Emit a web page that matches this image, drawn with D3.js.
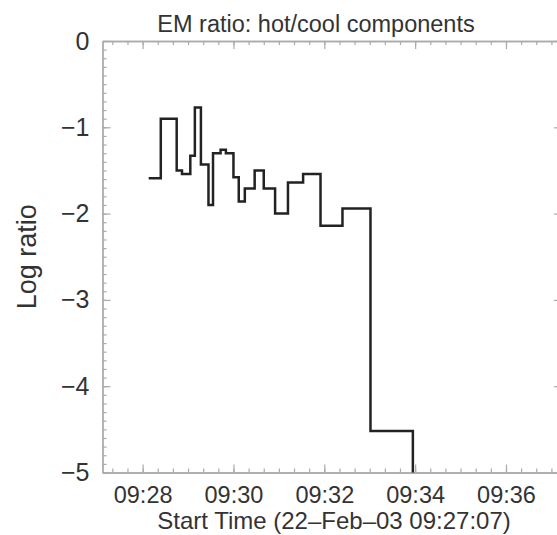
<!DOCTYPE html>
<html>
<head>
<meta charset="utf-8">
<script src="https://cdn.jsdelivr.net/npm/d3@7"></script>
<style>
  body { margin: 0; background: #fff; }
  text { font-family: "Liberation Sans", Arial, Helvetica, sans-serif; fill: #333; }
</style>
</head>
<body>
<script>
// bin edges (start of each interval, last entry closes the final bin)
let binEdges = ["09:28:08", "09:28:24", "09:28:45", "09:28:52", "09:29:03", "09:29:09",
  "09:29:17", "09:29:27", "09:29:33", "09:29:43", "09:29:50", "09:30:00", "09:30:07",
  "09:30:15", "09:30:28", "09:30:40", "09:30:55", "09:31:12", "09:31:32", "09:31:55",
  "09:32:24", "09:33:01", "09:33:57", "09:35:00"];
// log10 of hot/cool EM ratio per bin
let logRatio = [-1.59, -0.90, -1.50, -1.54, -1.33, -0.77, -1.43, -1.90, -1.30, -1.26,
  -1.30, -1.58, -1.86, -1.71, -1.50, -1.71, -2.00, -1.64, -1.54, -2.14, -1.94, -4.52, -6.0];
let yTicks = [0, -1, -2, -3, -4, -5];
let xStart = "09:27:07";
let xEnd = "09:37:14";

let width = 557;
let height = 535;
let margin = {left: 102.5, top: 41, right: 562, bottom: 472.5};

let parse = d3.utcParse("%H:%M:%S");

let x = d3.scaleUtc()
  .domain([parse(xStart), parse(xEnd)])
  .range([margin.left, margin.right]);
let y = d3.scaleLinear()
  .domain([-5, 0])
  .range([margin.bottom, margin.top]);

let svg = d3.select("body")
  .append("svg")
  .attr("width", width)
  .attr("height", height);

svg.append("defs").append("clipPath")
  .attr("id", "plot")
  .append("rect")
  .attr("x", margin.left)
  .attr("y", margin.top)
  .attr("width", margin.right - margin.left)
  .attr("height", margin.bottom - margin.top);

// axes: ticks point inward on all four sides
function styleAxis(g) {
  g.selectAll("path.domain").attr("stroke", "#aaa").attr("stroke-width", 1.3);
  g.selectAll(".tick line").attr("stroke", "#aaa").attr("stroke-width", 1.2);
}

let minorX = d3.utcSecond.every(20);
let majorX = d3.utcMinute.every(2);

svg.append("g")
  .attr("transform", `translate(0,${margin.bottom})`)
  .call(d3.axisBottom(x).ticks(minorX).tickSize(-4).tickSizeOuter(0).tickFormat(""))
  .call(styleAxis);
svg.append("g")
  .attr("transform", `translate(0,${margin.bottom})`)
  .call(d3.axisBottom(x).ticks(majorX).tickSize(-8).tickSizeOuter(0).tickPadding(14)
    .tickFormat(d3.utcFormat("%H:%M")))
  .call(styleAxis)
  .call(g => g.selectAll("text").style("font-size", "23.5px").attr("fill", "#333"));

svg.append("g")
  .attr("transform", `translate(0,${margin.top})`)
  .call(d3.axisTop(x).ticks(minorX).tickSize(-4).tickSizeOuter(0).tickFormat(""))
  .call(styleAxis);
svg.append("g")
  .attr("transform", `translate(0,${margin.top})`)
  .call(d3.axisTop(x).ticks(majorX).tickSize(-8).tickSizeOuter(0).tickFormat(""))
  .call(styleAxis);

svg.append("g")
  .attr("transform", `translate(${margin.left},0)`)
  .call(d3.axisLeft(y).ticks(50).tickSize(-4).tickSizeOuter(0).tickFormat(""))
  .call(styleAxis);
svg.append("g")
  .attr("transform", `translate(${margin.left},0)`)
  .call(d3.axisLeft(y).tickValues(yTicks).tickSize(-8).tickSizeOuter(0).tickPadding(13)
    .tickFormat(d => d3.format("d")(d).replace("-", "\u2212")))
  .call(styleAxis)
  .call(g => g.selectAll("text").style("font-size", "25px").attr("fill", "#333"));

svg.append("g")
  .attr("transform", `translate(${margin.right},0)`)
  .call(d3.axisRight(y).ticks(50).tickSize(-4).tickSizeOuter(0).tickFormat(""))
  .call(styleAxis);
svg.append("g")
  .attr("transform", `translate(${margin.right},0)`)
  .call(d3.axisRight(y).tickValues(yTicks).tickSize(-8).tickSizeOuter(0).tickFormat(""))
  .call(styleAxis);

// step line
let points = logRatio.map((v, i) => [parse(binEdges[i]), v]);
points.push([parse(binEdges[binEdges.length - 1]), logRatio[logRatio.length - 1]]);

let line = d3.line()
  .x(d => x(d[0]))
  .y(d => y(d[1]))
  .curve(d3.curveStepAfter);

svg.append("path")
  .datum(points)
  .attr("clip-path", "url(#plot)")
  .attr("d", line)
  .attr("fill", "none")
  .attr("stroke", "#222")
  .attr("stroke-width", 2.5);

// labels
svg.append("text")
  .attr("x", 316)
  .attr("y", 32)
  .attr("text-anchor", "middle")
  .style("font-size", "23.5px")
  .text("EM ratio: hot/cool components");

svg.append("text")
  .attr("x", 334)
  .attr("y", 529)
  .attr("text-anchor", "middle")
  .style("font-size", "24px")
  .text("Start Time (22\u2013Feb\u201303 09:27:07)");

svg.append("text")
  .attr("transform", `translate(35.5,${(margin.top + margin.bottom) / 2}) rotate(-90)`)
  .attr("text-anchor", "middle")
  .style("font-size", "27px")
  .text("Log ratio");
</script>
</body>
</html>
